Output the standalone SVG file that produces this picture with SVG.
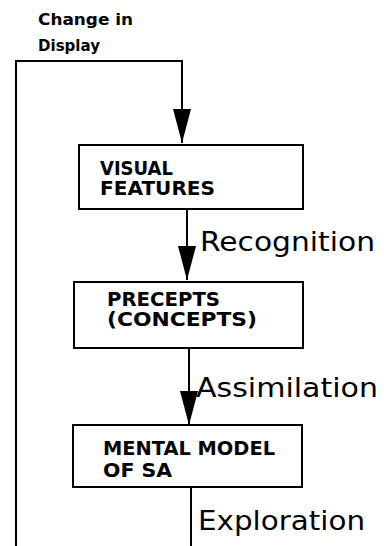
<svg xmlns="http://www.w3.org/2000/svg" width="384" height="546" viewBox="0 0 384 546">
<style>
.box{fill:#fff;stroke:#000;stroke-width:2}
.ln{fill:none;stroke:#000;stroke-width:2}
.bt{font-family:"DejaVu Sans",sans-serif;font-size:19px;font-weight:bold;fill:#000}
.lb{font-family:"DejaVu Sans",sans-serif;font-size:26px;fill:#000}
.hd{font-family:"DejaVu Sans",sans-serif;font-size:16px;font-weight:bold;fill:#000}
</style>
<defs>
<marker id="ah" markerUnits="userSpaceOnUse" markerWidth="34" markerHeight="18" refX="34" refY="9" orient="auto" viewBox="0 0 34 18">
<path d="M0,0 L34,9 L0,18 Z" fill="#000"/>
</marker>
</defs>
<rect width="384" height="546" fill="#fff"/>
<text class="hd" x="38" y="25" textLength="95" lengthAdjust="spacingAndGlyphs">Change in</text>
<text class="hd" x="38" y="51" textLength="62" lengthAdjust="spacingAndGlyphs">Display</text>
<g id="connectors">
<path class="ln" d="M16,546 L16,61 L182,61 L182,143" marker-end="url(#ah)"/>
<path class="ln" d="M187,209 L187,280" marker-end="url(#ah)"/>
<path class="ln" d="M189,348 L189,425" marker-end="url(#ah)"/>
<path class="ln" d="M191,487 L191,546"/>
<text class="lb" x="200" y="251" textLength="175" lengthAdjust="spacingAndGlyphs">Recognition</text>
<text class="lb" x="196" y="397" textLength="182" lengthAdjust="spacingAndGlyphs">Assimilation</text>
<text class="lb" x="198" y="530" textLength="167" lengthAdjust="spacingAndGlyphs">Exploration</text>
</g>
<g id="visual-features">
<rect class="box" x="79" y="145" width="224" height="64"/>
<text class="bt" x="100" y="175" textLength="73" lengthAdjust="spacingAndGlyphs">VISUAL</text>
<text class="bt" x="100" y="195" textLength="115" lengthAdjust="spacingAndGlyphs">FEATURES</text>
</g>
<g id="precepts">
<rect class="box" x="74" y="282" width="229" height="66"/>
<text class="bt" x="107" y="306" textLength="113" lengthAdjust="spacingAndGlyphs">PRECEPTS</text>
<text class="bt" x="107" y="326" textLength="150" lengthAdjust="spacingAndGlyphs">(CONCEPTS)</text>
</g>
<g id="mental-model">
<rect class="box" x="73" y="425" width="229" height="62"/>
<text class="bt" x="103" y="455" textLength="172" lengthAdjust="spacingAndGlyphs">MENTAL MODEL</text>
<text class="bt" x="103" y="477" textLength="69" lengthAdjust="spacingAndGlyphs">OF SA</text>
</g>
</svg>
